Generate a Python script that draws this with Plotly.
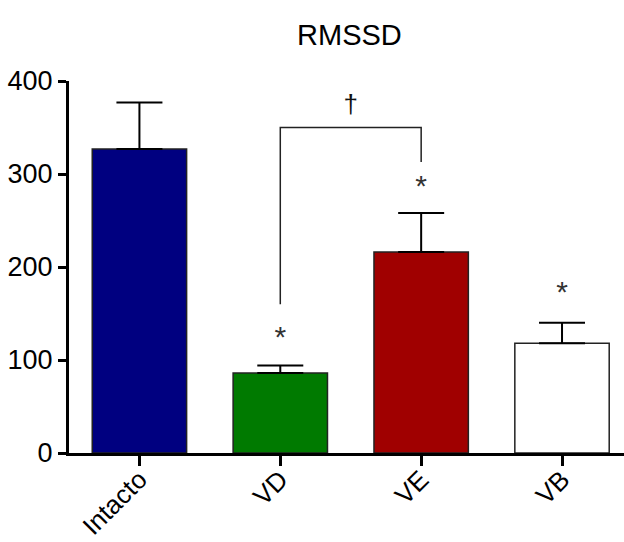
import plotly.graph_objects as go

categories = ["Intacto", "VD", "VE", "VB"]
means = [327, 86, 216, 118]
sem = [50, 8, 42, 22]
colors = ["#000080", "#007A00", "#A00000", "#FFFFFF"]
star_y = [None, 122, 284, 170]
star_text = ["", "*", "*", "*"]
bracket_x = ["VD", "VD", "VE", "VE"]
bracket_y = [160, 350, 350, 313]
dagger_y = 373

fig = go.Figure()
fig.add_trace(go.Bar(
    x=categories, y=means,
    marker=dict(color=colors, line=dict(color="#222", width=1.5)),
    error_y=dict(type="data", array=sem, arrayminus=[0]*len(sem), symmetric=False,
                 color="black", thickness=2, width=23),
    width=0.67,
))
fig.add_trace(go.Scatter(
    x=categories, y=star_y, mode="text", text=star_text,
    textfont=dict(size=30, color="#333", family="Liberation Sans, Arial"),
    textposition="middle center",
))
fig.add_trace(go.Scatter(
    x=bracket_x, y=bracket_y, mode="lines",
    line=dict(color="#222", width=1.5),
))
fig.add_trace(go.Scatter(
    x=[1.5], y=[dagger_y], mode="text", text=["†"],
    textfont=dict(size=26, color="#111", family="Liberation Sans, Arial"),
    xaxis="x2", yaxis="y",
))

fig.update_layout(
    width=624, height=542,
    showlegend=False,
    plot_bgcolor="white", paper_bgcolor="white",
    margin=dict(l=69, r=0, t=81, b=89, autoexpand=False),
    font=dict(family="Liberation Sans, Arial", color="black"),
    title=dict(text="RMSSD", x=0.56, xanchor="center", y=0.935, yanchor="middle",
               font=dict(size=29, color="black")),
    xaxis=dict(type="category", range=[-0.5, 3.44], showline=True, linecolor="black",
               linewidth=3, ticks="outside", ticklen=10, tickwidth=3, tickcolor="black",
               tickangle=-45, tickfont=dict(size=26), showgrid=False, zeroline=False,
               automargin=False, ticklabelstandoff=-12),
    xaxis2=dict(range=[-0.5, 3.44], overlaying="x", visible=False),
    yaxis=dict(range=[0, 400], showline=True, linecolor="black", linewidth=3,
               ticks="outside", ticklen=8, tickwidth=3, tickcolor="black",
               tickvals=[0, 100, 200, 300, 400], tickfont=dict(size=27),
               showgrid=False, zeroline=False, automargin=False),
)

fig.write_html(
    "out.html",
    config={"displayModeBar": False},
    post_script="document.body.style.margin='0';document.documentElement.style.overflow='hidden';",
)
